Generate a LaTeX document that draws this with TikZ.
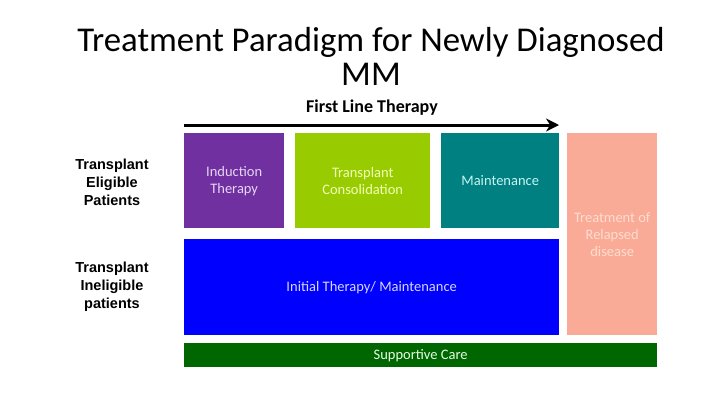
\documentclass[tikz,border=0pt]{standalone}
\usepackage{fontspec}
\setmainfont{Carlito}
\newfontfamily\arialb{Liberation Sans}
\usetikzlibrary{arrows.meta}
\definecolor{cpurple}{HTML}{7030A0}
\definecolor{cgreenlt}{HTML}{99CC00}
\definecolor{cteal}{HTML}{008080}
\definecolor{cblue}{HTML}{0000FF}
\definecolor{csalmon}{HTML}{F9AB98}
\definecolor{cgreendk}{HTML}{006600}
\definecolor{tpurple}{HTML}{E6D5F5}
\definecolor{tgreenlt}{HTML}{F0FFB8}
\definecolor{tteal}{HTML}{C8F5F5}
\definecolor{tblue}{HTML}{D5D5FF}
\definecolor{tsalmon}{HTML}{FFDCCF}
\definecolor{tgreendk}{HTML}{E5FFE5}
\tikzset{
  box/.style={anchor=north west, inner sep=0pt, align=center, font=\fontsize{14.5}{17}\selectfont},
  sidelabel/.style={align=center, font=\arialb\bfseries\fontsize{14.5}{18}\selectfont, inner sep=0pt},
}
\begin{document}
\begin{tikzpicture}[x=1pt,y=-1pt]
\useasboundingbox[fill=white] (0,0) rectangle (720,405);
\node[anchor=base, align=center, inner sep=0pt, font=\fontsize{34.8}{33.5}\selectfont] (title) at (371,85) {Treatment Paradigm for Newly Diagnosed\\MM};
\node[anchor=base, inner sep=0pt, font=\bfseries\fontsize{18}{20}\selectfont] (flt) at (372,112) {First Line Therapy};
\coordinate (arrs) at (184,125);
\coordinate (arre) at (559,125);
\draw[line width=3pt, -{Stealth[length=13pt,width=13pt]}] (arrs) -- (arre);
\node[box, fill=cpurple, text=tpurple, minimum width=100pt, minimum height=95pt] (induct) at (184,133) {Induction\\Therapy};
\node[box, fill=cgreenlt, text=tgreenlt, minimum width=135pt, minimum height=95pt] (consol) at (295,133) {Transplant\\Consolidation};
\node[box, fill=cteal, text=tteal, minimum width=118pt, minimum height=95pt] (maint) at (441,133) {Maintenance};
\node[box, fill=csalmon, text=tsalmon, minimum width=90pt, minimum height=202pt] (relapse) at (567,133) {Treatment of\\Relapsed\\disease};
\node[box, fill=cblue, text=tblue, minimum width=375pt, minimum height=96pt] (initial) at (184,239) {Initial Therapy/ Maintenance};
\node[box, fill=cgreendk, text=tgreendk, minimum width=473pt, minimum height=24pt] (support) at (184,343) {Supportive Care};
\node[sidelabel] (elig) at (112,182) {Transplant\\Eligible\\Patients};
\node[sidelabel] (inelig) at (112,287) {Transplant\\Ineligible\\patients};
\end{tikzpicture}
\end{document}
